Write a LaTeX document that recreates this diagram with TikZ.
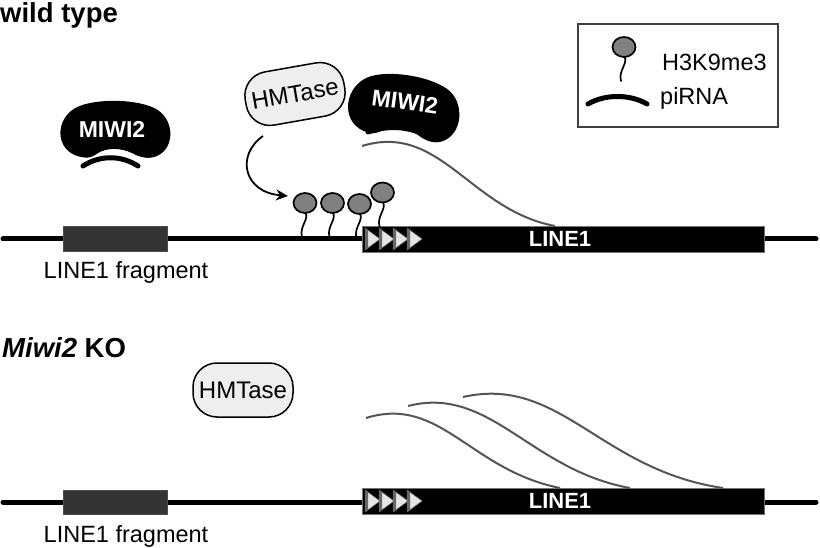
\documentclass[tikz,border=0pt]{standalone}
\usepackage{fontspec}
\setmainfont{Liberation Sans}
\usetikzlibrary{arrows.meta,shapes.geometric}
\definecolor{headgray}{HTML}{808080}
\definecolor{fraggray}{HTML}{333333}
\definecolor{rnagray}{HTML}{555555}
\definecolor{hmtfill}{HTML}{EEEEEE}
\newcommand{\kidneyshape}{(-0.55,0.95) .. controls (-1.05,0.85) and (-1.1,-0.2) .. (-0.75,-0.65) .. controls (-0.5,-1.0) and (0.3,-1.05) .. (0.7,-0.7) .. controls (1.05,-0.4) and (1.1,0.6) .. (0.75,0.9) .. controls (0.6,1.02) and (0.45,0.95) .. (0.3,0.8) .. controls (0.1,0.62) and (-0.15,0.62) .. (-0.3,0.8) .. controls (-0.4,0.92) and (-0.45,0.97) .. (-0.55,0.95) -- cycle}
\tikzset{
  dna/.style={line width=5pt, line cap=round},
  fragbox/.style={fill=fraggray, draw=black!70, line width=0.6pt},
  linebox/.style={fill=black, draw=black!55, line width=0.8pt},
  tri/.style={fill=black!10, draw=black!55, line width=0.5pt},
  trishade/.style={fill=black!60},
  pirna/.style={line width=5pt, line cap=round},
  rnacurve/.style={draw=rnagray, line width=2pt},
  hmtbox/.style={draw, line width=1.5pt, fill=hmtfill, rounded corners=24pt, minimum width=100pt, minimum height=54pt, inner sep=0pt, font=\fontsize{24}{27}\selectfont},
  miwitext/.style={font=\bfseries\fontsize{23}{26}\selectfont, text=white, inner sep=0pt},
  line1text/.style={font=\bfseries\fontsize{22}{25}\selectfont, text=white, inner sep=0pt},
  plaintext/.style={font=\fontsize{23.5}{27}\selectfont, inner sep=0pt},
  titletext/.style={font=\bfseries\fontsize{27.5}{31}\selectfont, inner sep=0pt},
  lolli/.pic={
    \draw[line width=1.7pt, line cap=round] (0,9) .. controls (5,16) and (-6,23) .. (-3,34);
    \draw[line width=1.7pt, fill=headgray] (0,0) ellipse [x radius=11.5, y radius=10];
  }
}
\newcommand{\triset}[2]{%
  \foreach \i in {0,1,2,3}{
    \pgfmathsetmacro{\tx}{#1+14*\i}
    \draw[tri] (\tx,#2-11) -- (\tx+15,#2) -- (\tx,#2+11) -- cycle;
    \fill[trishade] (\tx,#2-11) -- (\tx+3,#2-9) -- (\tx+3,#2+9) -- (\tx,#2+11) -- cycle;
  }}
\begin{document}
\begin{tikzpicture}[x=1pt,y=-1pt]
\useasboundingbox (0,0) rectangle (820,548);

% ---------------- wild type ----------------
\node[titletext, anchor=base west] (wt) at (0,23) {wild type};

% DNA
\coordinate (dnaLa) at (3,239);
\coordinate (dnaRa) at (816,239);
\draw[dna] (dnaLa) -- (dnaRa);
\node[fragbox, minimum width=104pt, minimum height=25pt, inner sep=0pt] (fraga) at (115,239) {};
\node[plaintext, anchor=base] (fraglabela) at (126,279) {LINE1 fragment};
\node[linebox, minimum width=402pt, minimum height=26pt, inner sep=0pt] (linea) at (563,239) {};
\triset{365}{239}
\node[line1text] (line1a) at (560,239) {LINE1};

% MIWI2 left
\begin{scope}[shift={(115,129)}, xscale=56, yscale=30]
  \fill[black] \kidneyshape;
\end{scope}
\node[miwitext] (miwiA) at (112,129) {MIWI2};
\draw[pirna] (83,166) .. controls (100,155) and (121,155) .. (138,166);

% MIWI2 right
\begin{scope}[shift={(404,106)}, rotate=-8, xscale=57, yscale=33]
  \fill[black] \kidneyshape;
\end{scope}
\node[miwitext, rotate=-8] (miwiB) at (405,102) {MIWI2};
\draw[pirna] (368,132) .. controls (388,125) and (410,126) .. (429,137);

% piRNA bound to LINE1
\coordinate (rnaA0) at (362,146);
\coordinate (rnaA1) at (555,226);
\draw[rnacurve] (rnaA0) .. controls (440,122) and (470,210) .. (rnaA1);

% HMTase top
\node[hmtbox, rotate=10] (hmtA) at (295,94) {HMTase};
\coordinate (arrS) at (263,136);
\coordinate (arrE) at (288,196);
\draw[line width=1.8pt, -{Stealth[length=12pt,width=11pt]}] (arrS) .. controls (236,155) and (243,192) .. (arrE);

% H3K9me3 lollipops
\pic at (305,203) {lolli};
\pic at (332.5,203) {lolli};
\pic at (359.5,204) {lolli};
\pic at (382.5,192.5) {lolli};

% legend
\node[draw=black!75, line width=1.2pt, minimum width=200pt, minimum height=103pt, inner sep=0pt] (legend) at (678,75.5) {};
\pic at (624,47) {lolli};
\node[plaintext, anchor=west] (legH) at (662,62) {H3K9me3};
\draw[pirna] (588,104) .. controls (605,94) and (630,94) .. (647,104);
\node[plaintext, anchor=base west] (legP) at (660,105) {piRNA};

% ---------------- Miwi2 KO ----------------
\node[titletext, anchor=base west] (ko) at (2,358) {\textit{Miwi2} KO};
\coordinate (dnaLb) at (3,502);
\coordinate (dnaRb) at (816,502);
\draw[dna] (dnaLb) -- (dnaRb);
\node[fragbox, minimum width=104pt, minimum height=24pt, inner sep=0pt] (fragb) at (115,502) {};
\node[plaintext, anchor=base] (fraglabelb) at (126,542) {LINE1 fragment};
\node[linebox, minimum width=402pt, minimum height=26pt, inner sep=0pt] (lineb) at (563,501) {};
\triset{365}{501}
\node[line1text] (line1b) at (560,501) {LINE1};

\node[hmtbox] (hmtB) at (243,390) {HMTase};

\coordinate (c1s) at (366,418);
\coordinate (c1e) at (560,488);
\coordinate (c2s) at (408,406);
\coordinate (c2e) at (630,488);
\coordinate (c3s) at (463,397);
\coordinate (c3e) at (723,488);
\draw[rnacurve] (c1s) .. controls (440,395) and (470,470) .. (c1e);
\draw[rnacurve] (c2s) .. controls (490,385) and (530,470) .. (c2e);
\draw[rnacurve] (c3s) .. controls (560,375) and (600,470) .. (c3e);
\end{tikzpicture}
\end{document}
